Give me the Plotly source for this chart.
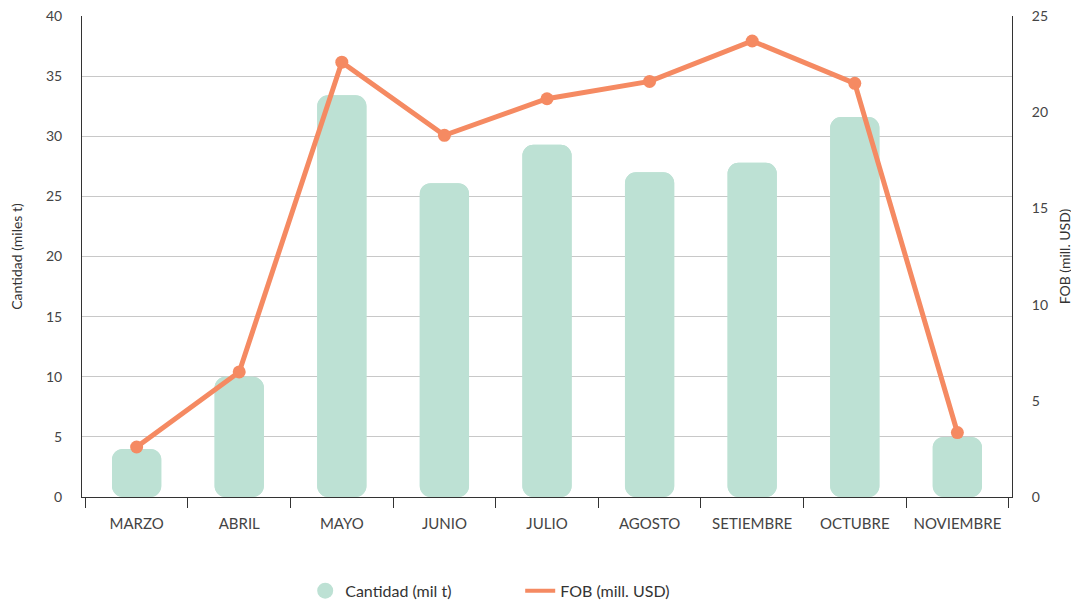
import plotly.graph_objects as go

meses = ["MARZO", "ABRIL", "MAYO", "JUNIO", "JULIO", "AGOSTO", "SETIEMBRE", "OCTUBRE", "NOVIEMBRE"]
cantidad = [4.0, 10.0, 33.4, 26.1, 29.3, 27.0, 27.8, 31.6, 5.0]
fob = [2.6, 6.5, 22.6, 18.8, 20.7, 21.6, 23.7, 21.5, 3.35]

bar_color = "#BDE1D4"
line_color = "#F58A62"
font_family = "Lato, 'Open Sans', sans-serif"

fig = go.Figure()

# bars: upper part rounded at top
fig.add_trace(go.Bar(
    x=meses, y=cantidad, base=[0] * len(cantidad),
    marker=dict(color=bar_color, line=dict(width=0)),
    width=0.48, showlegend=False, hoverinfo="skip", yaxis="y",
))
# same bars drawn downward to round the bottom corners
fig.add_trace(go.Bar(
    x=meses, y=[-v for v in cantidad], base=cantidad,
    marker=dict(color=bar_color, line=dict(width=0)),
    width=0.48, showlegend=False, name="Cantidad (mil t)", yaxis="y",
))
# legend entries
fig.add_trace(go.Scatter(
    x=[None], y=[None], mode="markers", name="Cantidad (mil t)",
    marker=dict(color=bar_color, size=16, symbol="circle"),
))
fig.add_trace(go.Scatter(
    x=[None], y=[None], mode="lines", name="FOB (mill. USD)",
    line=dict(color=line_color, width=4),
))
fig.add_trace(go.Scatter(
    x=meses, y=fob, mode="lines+markers", name="FOB (mill. USD)",
    line=dict(color=line_color, width=5),
    marker=dict(color=line_color, size=13),
    yaxis="y2", showlegend=False,
))

fig.update_layout(
    width=1071, height=592,
    margin=dict(l=74, r=67, t=8, b=103, autoexpand=False),
    paper_bgcolor="white", plot_bgcolor="white",
    barmode="overlay", barcornerradius=11,
    font=dict(family=font_family, size=14, color="#333333"),
    xaxis=dict(
        showline=True, linecolor="#333333", linewidth=1,
        ticks="outside", tickson="boundaries", ticklen=10, tickcolor="#333333",
        tickfont=dict(size=15, color="#444444"), showgrid=False, automargin=False,
        ticklabelstandoff=13,
    ),
    yaxis=dict(
        range=[0, 40], tickvals=[0, 5, 10, 15, 20, 25, 30, 35, 40],
        showgrid=True, gridcolor="#C8C8C8", gridwidth=1,
        showline=True, linecolor="#333333", linewidth=1, zeroline=False,
        ticks="", ticklabelstandoff=16, automargin=False, ticklabeloverflow="allow",
        tickfont=dict(size=14, color="#444444"),
        title=dict(text="Cantidad (miles t)", font=dict(size=14, color="#333333"), standoff=20),
    ),
    yaxis2=dict(
        range=[0, 25], tickvals=[0, 5, 10, 15, 20, 25], overlaying="y", side="right", showgrid=False,
        showline=True, linecolor="#333333", linewidth=1, zeroline=False,
        ticks="", ticklabelstandoff=16, automargin=False, ticklabeloverflow="allow",
        tickfont=dict(size=14, color="#444444"),
        title=dict(text="FOB (mill. USD)", font=dict(size=14, color="#333333"), standoff=13),
    ),
    legend=dict(
        orientation="h", x=0.24, xanchor="left", y=-0.195, yanchor="middle",
        font=dict(size=16, color="#333333"), itemwidth=30,
        entrywidth=170, entrywidthmode="pixels",
    ),
)

fig.write_html("out.html")
